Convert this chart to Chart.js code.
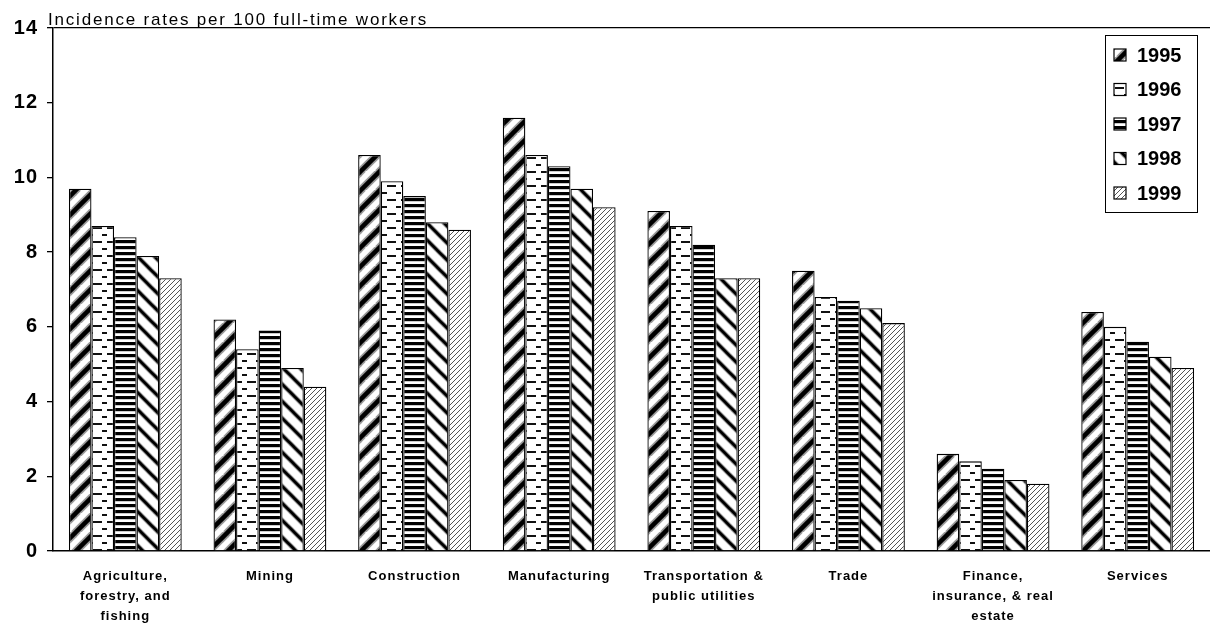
<!DOCTYPE html>
<html><head><meta charset="utf-8">
<script src="https://cdn.jsdelivr.net/npm/chart.js@4/dist/chart.umd.min.js"></script>
<style>html,body{margin:0;padding:0;background:#fff;overflow:hidden}</style>
</head><body>
<canvas id="c" width="1210" height="627"></canvas>
<script>
const categories = [["Agriculture,","forestry, and","fishing"],"Mining","Construction","Manufacturing",["Transportation &","public utilities"],"Trade",["Finance,","insurance, & real","estate"],"Services"];
const years = ["1995","1996","1997","1998","1999"];
const v1995 = [9.7, 6.2, 10.6, 11.6, 9.1, 7.5, 2.6, 6.4];
const v1996 = [8.7, 5.4, 9.9, 10.6, 8.7, 6.8, 2.4, 6.0];
const v1997 = [8.4, 5.9, 9.5, 10.3, 8.2, 6.7, 2.2, 5.6];
const v1998 = [7.9, 4.9, 8.8, 9.7, 7.3, 6.5, 1.9, 5.2];
const v1999 = [7.3, 4.4, 8.6, 9.2, 7.3, 6.1, 1.8, 4.9];
const yTicks = [0, 2, 4, 6, 8, 10, 12, 14];
const yTitle = "Incidence rates per 100 full-time workers";

function tile(w, h, draw) {
  const c = document.createElement('canvas');
  c.width = w; c.height = h;
  const x = c.getContext('2d');
  x.fillStyle = '#fff'; x.fillRect(0, 0, w, h);
  draw(x, w, h);
  return c;
}
function diag(N, dir, widths, colors) {
  return tile(N, N, (x) => {
    for (let s = 0; s < widths.length; s++) {
      x.strokeStyle = colors[s]; x.lineWidth = widths[s];
      for (const k of [-N, 0, N]) {
        x.beginPath();
        if (dir === '/') { x.moveTo(k - 2, N + 2); x.lineTo(k + N + 2, -2); }
        else { x.moveTo(k - 2, -2); x.lineTo(k + N + 2, N + 2); }
        x.stroke();
      }
    }
  });
}
const ctx0 = document.getElementById('c').getContext('2d');
const t1995 = diag(19, '/', [8, 4.5], ['#999', '#000']);
const t1996 = tile(14, 14, (x) => {
  x.fillStyle = '#111';
  x.fillRect(0, 3, 4, 2); x.fillRect(9, 3, 5, 2);
  x.fillRect(4, 10, 5, 2);
});
const t1997 = tile(6, 6, (x) => {
  x.fillStyle = '#000'; x.fillRect(0, 0, 6, 3);
  x.fillStyle = '#aaa'; x.fillRect(0, 3, 6, 0.6);
});
const t1998 = diag(17, '\\', [5, 3], ['#aaa', '#000']);
const t1999 = diag(5, '/', [1], ['#555']);
const patterns = [t1995, t1996, t1997, t1998, t1999].map(t => ctx0.createPattern(t, 'repeat'));
const seriesValues = [v1995, v1996, v1997, v1998, v1999];

const FONT = "Arial, 'Liberation Sans', sans-serif";

const extras = {
  id: 'extras',
  beforeDraw(chart) {
    chart.ctx.letterSpacing = '1px';
  },
  afterDraw(chart) {
    const c = chart.ctx;
    c.save();
    c.letterSpacing = '1.8px';
    c.fillStyle = '#000';
    c.font = "17px " + FONT;
    c.textBaseline = 'alphabetic';
    c.textAlign = 'left';
    c.fillText(yTitle, 48, 25);
    // legend
    c.letterSpacing = '0px';
    c.strokeStyle = '#000'; c.lineWidth = 1;
    c.fillStyle = '#fff';
    c.fillRect(1105.5, 35.5, 92, 177);
    c.strokeRect(1105.5, 35.5, 92, 177);
    c.font = "bold 20px " + FONT;
    c.textBaseline = 'middle';
    chart.data.datasets.forEach((ds, i) => {
      const cy = 55 + i * 34.5;
      c.fillStyle = ds.backgroundColor;
      c.fillRect(1114, cy - 6, 12, 12);
      c.strokeStyle = '#000'; c.lineWidth = 1.2;
      c.strokeRect(1114, cy - 6, 12, 12);
      c.fillStyle = '#000';
      c.fillText(ds.label, 1137, cy + 1);
    });
    c.restore();
  }
};

new Chart(ctx0, {
  type: 'bar',
  data: {
    labels: categories,
    datasets: years.map((y, i) => ({
      label: y,
      data: seriesValues[i],
      backgroundColor: patterns[i],
      borderColor: '#000',
      borderWidth: 1.3,
      categoryPercentage: 0.78,
      barPercentage: 1.0
    }))
  },
  options: {
    responsive: false,
    devicePixelRatio: 1,
    animation: false,
    layout: { padding: { top: 28, right: 0, left: 0, bottom: 0 } },
    plugins: { legend: { display: false }, title: { display: false }, tooltip: { enabled: false } },
    scales: {
      x: {
        grid: { display: false },
        border: { display: true, color: '#000', width: 1.5 },
        ticks: {
          color: '#000', font: { family: FONT, size: 13, weight: 'bold', lineHeight: 1.55 },
          padding: 7, maxRotation: 0, autoSkip: false
        },
        afterFit(s) { s.height = 76; }
      },
      y: {
        min: 0, max: 14,
        afterBuildTicks(s) { s.ticks = yTicks.map(v => ({ value: v })); },
        grid: {
          drawOnChartArea: true, drawTicks: true, tickLength: 6,
          color: (c) => (c.tick && c.tick.value === 14) ? '#000' : 'rgba(0,0,0,0)',
          tickColor: '#000', lineWidth: 1.3
        },
        border: { display: true, color: '#000', width: 1.5 },
        ticks: { color: '#000', font: { family: FONT, size: 20, weight: 'bold' }, padding: 9 },
        afterFit(s) { s.width = 53; }
      }
    }
  },
  plugins: [extras]
});
</script>
</body></html>
